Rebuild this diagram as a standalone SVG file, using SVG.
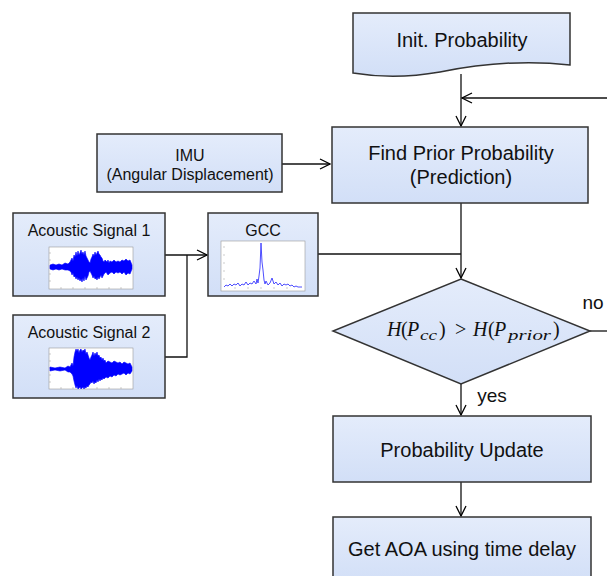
<svg xmlns="http://www.w3.org/2000/svg" width="607" height="576" viewBox="0 0 607 576">
<defs>
<linearGradient id="bf" x1="0" y1="0" x2="0" y2="1">
<stop offset="0" stop-color="#e4ecfb"/>
<stop offset="1" stop-color="#d2dff7"/>
</linearGradient>
<marker id="ah" viewBox="0 0 12 12" refX="11" refY="6" markerWidth="12" markerHeight="12" markerUnits="userSpaceOnUse" orient="auto">
<path d="M1,1 L11,6 L1,11" fill="none" stroke="#000" stroke-width="1.3"/>
</marker>
</defs>
<style>
.box{fill:url(#bf);stroke:#333;stroke-width:1.5}
.t{font-family:"Liberation Sans",Arial,sans-serif;fill:#111;text-anchor:middle}
.t20{font-size:20px}
.t16{font-size:16px}
.m{font-family:"Liberation Serif","Times New Roman",serif;font-style:italic;fill:#111}
.mu{font-family:"Liberation Serif","Times New Roman",serif;fill:#111}
.conn{fill:none;stroke:#111;stroke-width:1.3}
.plot{fill:#fff;stroke:#999;stroke-width:0.6}
.tick{stroke:#999;stroke-width:0.5}
.wave{fill:#0000ff;stroke:#0000ff;stroke-width:0.6}
.gcc{fill:none;stroke:#3a3aff;stroke-width:0.9}
</style>

<g id="connectors">
<path class="conn" d="M461,74 V126" marker-end="url(#ah)"/>
<path class="conn" d="M607,98 H462" marker-end="url(#ah)"/>
<path class="conn" d="M282,164 H330" marker-end="url(#ah)"/>
<path class="conn" d="M165,255 H207" marker-end="url(#ah)"/>
<path class="conn" d="M165,357 H187 V255"/>
<path class="conn" d="M318,254 H461"/>
<path class="conn" d="M461,203 V278" marker-end="url(#ah)"/>
<path class="conn" d="M590,331 H607"/>
<path class="conn" d="M461,384 V415" marker-end="url(#ah)"/>
<path class="conn" d="M461,482 V516" marker-end="url(#ah)"/>
<text class="t" x="593" y="309" style="font-size:19px">no</text>
<text class="t" x="492" y="402" style="font-size:19px">yes</text>
</g>

<g id="init">
<path class="box" d="M353,13 H570 V65 Q510,58 440,72 Q395,80 353,73 Z"/>
<text class="t t20" x="462" y="47">Init. Probability</text>
</g>

<g id="prior">
<rect class="box" x="332" y="127" width="256" height="76"/>
<text class="t t20" x="461" y="160">Find Prior Probability</text>
<text class="t t20" x="461" y="184">(Prediction)</text>
</g>

<g id="imu">
<rect class="box" x="97" y="134" width="185" height="58"/>
<text class="t t16" x="190" y="161">IMU</text>
<text class="t t16" x="190" y="180">(Angular Displacement)</text>
</g>

<g id="acoustic1">
<rect class="box" x="13" y="213" width="152" height="83"/>
<text class="t t16" x="89" y="236">Acoustic Signal 1</text>
<rect class="plot" x="49" y="247" width="84" height="42"/>
<path class="tick" d="M49,253h2M49,260h2M49,267h2M49,274h2M49,281h2M61,289v-2M73,289v-2M85,289v-2M97,289v-2M109,289v-2M121,289v-2"/>
<polygon class="wave" points="50,265 53,264 56,265 59,264 62,265 65,263 68,264 70,262 72,258 73,261 74,255 75,257 76,252 77,256 78,251 79,255 80,253 81,250 82,254 83,252 84,255 85,251 86,256 87,258 88,260 89,262 90,263 91,259 92,257 93,254 94,256 95,252 96,255 97,253 98,251 99,254 100,255 101,257 102,258 103,261 104,262 105,260 106,261 107,262 108,260 109,263 110,261 112,262 114,260 116,262 118,261 120,262 122,260 124,261 126,259 128,261 130,260 132,265 132,269 130,274 128,273 126,275 124,272 122,274 120,272 118,273 116,272 114,274 112,272 110,273 108,275 106,272 104,274 103,276 102,278 101,275 100,277 99,279 98,277 97,280 96,278 95,279 94,276 93,278 92,275 91,273 90,271 89,272 88,276 87,278 86,280 85,276 84,281 83,278 82,282 81,279 80,281 79,278 78,280 77,277 76,279 75,276 74,277 73,273 72,275 71,272 70,271 68,270 65,270 62,269 59,270 56,269 53,270 50,269"/>
</g>

<g id="acoustic2">
<rect class="box" x="13" y="315" width="152" height="83"/>
<text class="t t16" x="89" y="338">Acoustic Signal 2</text>
<rect class="plot" x="49" y="348" width="84" height="41"/>
<path class="tick" d="M49,354h2M49,361h2M49,368h2M49,375h2M49,382h2M61,389v-2M73,389v-2M85,389v-2M97,389v-2M109,389v-2M121,389v-2"/>
<polygon class="wave" points="50,367 55,368 60,367 65,368 68,366 70,367 72,363 73,366 74,357 75,352 76,349 77,351 78,349 79,353 80,350 81,349 82,352 83,350 84,351 85,349 86,354 87,352 88,355 89,358 90,360 91,357 92,355 93,352 94,356 95,353 96,355 97,352 98,356 99,355 100,358 101,357 102,360 103,358 104,361 105,360 106,363 108,361 110,362 112,363 114,361 116,362 118,363 120,362 122,364 124,362 126,363 128,364 130,363 132,367 132,371 130,374 128,373 126,375 124,373 122,374 120,375 118,374 116,376 114,375 112,377 110,376 108,378 106,377 104,379 103,378 102,380 101,379 100,381 99,379 98,382 97,380 96,383 95,382 94,384 93,381 92,383 91,382 90,384 89,385 88,387 87,386 86,388 85,387 84,389 83,387 82,388 81,389 80,387 79,388 78,389 77,386 76,388 75,385 74,381 73,376 72,374 70,372 68,372 65,370 60,371 55,370 50,371"/>
</g>

<g id="gcc">
<rect class="box" x="208" y="213" width="110" height="83"/>
<text class="t t16" x="263" y="236">GCC</text>
<rect class="plot" x="221" y="241" width="84" height="50"/>
<path class="tick" d="M223,247h2M223,255h2M223,263h2M223,271h2M223,279h2M235,289v-2M248,289v-2M261,289v-2M274,289v-2M287,289v-2"/>
<polyline class="gcc" points="224,287 226,285 228,286 230,284 232,286 234,284 236,285 238,283 240,286 242,284 244,285 246,282 248,285 250,283 252,284 254,281 256,284 257,279 258,283 259,276 260,268 261,243 262,262 263,270 264,280 265,284 266,281 268,285 270,283 272,278 274,284 276,282 278,285 280,283 282,286 284,284 286,285 288,284 290,286 292,285 294,287 296,286 298,287 302,287"/>
</g>

<g id="decision">
<polygon class="box" points="461,279 590,331 461,384 333,331"/>
<text class="m" x="387" y="336" style="font-size:20px">H</text>
<text class="mu" x="401" y="336" style="font-size:20px">(</text>
<text class="m" x="407" y="336" style="font-size:20px">P</text>
<text class="m" x="420" y="340" style="font-size:15px" textLength="17" lengthAdjust="spacingAndGlyphs">cc</text>
<text class="mu" x="439" y="336" style="font-size:20px">)</text>
<text class="mu" x="455" y="336" style="font-size:20px">&gt;</text>
<text class="m" x="473" y="336" style="font-size:20px">H</text>
<text class="mu" x="488" y="336" style="font-size:20px">(</text>
<text class="m" x="494" y="336" style="font-size:20px">P</text>
<text class="m" x="508" y="340" style="font-size:15px" textLength="43" lengthAdjust="spacingAndGlyphs">prior</text>
<text class="mu" x="553" y="336" style="font-size:20px">)</text>
</g>

<g id="update">
<rect class="box" x="333" y="416" width="258" height="66"/>
<text class="t t20" x="462" y="457">Probability Update</text>
</g>

<g id="aoa">
<rect class="box" x="333" y="517" width="258" height="66"/>
<text class="t t20" x="462" y="556">Get AOA using time delay</text>
</g>
</svg>
